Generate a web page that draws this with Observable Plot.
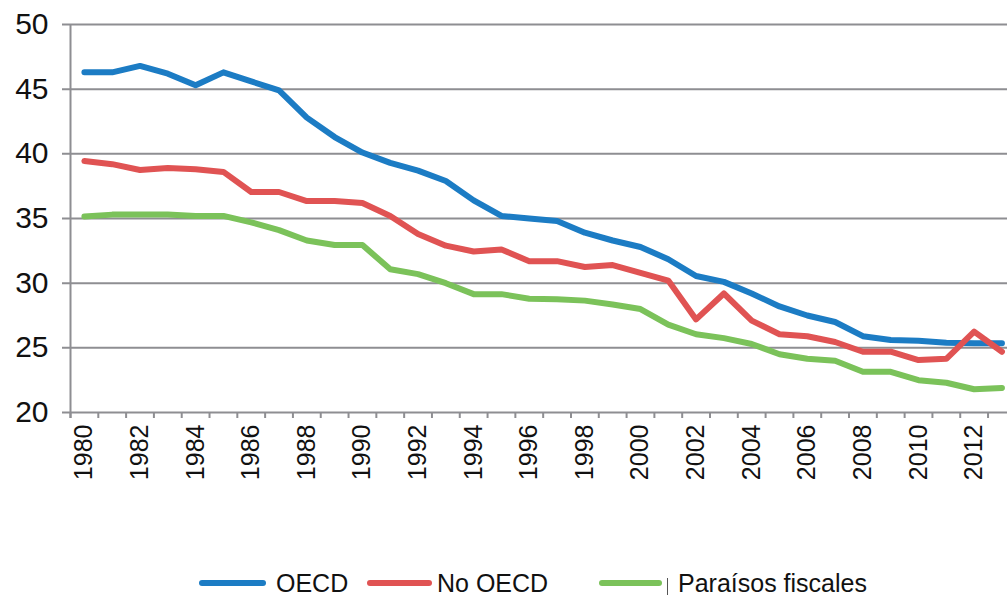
<!DOCTYPE html>
<html>
<head>
<meta charset="utf-8">
<script src="https://cdn.jsdelivr.net/npm/d3@7"></script>
<script src="https://cdn.jsdelivr.net/npm/@observablehq/plot@0.6"></script>
<style>
  html, body { margin: 0; padding: 0; background: #fff; overflow: hidden; }
  body { width: 1007px; height: 595px; font-family: "Liberation Sans", Arial, sans-serif; }
  #legend { position: relative; height: 35px; }
  .item { position: absolute; top: 8px; display: flex; align-items: center; height: 30px; font-size: 25px; color: #111; }
  .sw { display: inline-block; height: 6px; border-radius: 3px; }
</style>
</head>
<body>
<div id="chart"></div>
<div id="legend"></div>
<script>
const years = [1980,1981,1982,1983,1984,1985,1986,1987,1988,1989,
               1990,1991,1992,1993,1994,1995,1996,1997,1998,1999,
               2000,2001,2002,2003,2004,2005,2006,2007,2008,2009,
               2010,2011,2012,2013];
const oecd = [46.3,46.3,46.8,46.2,45.3,46.3,45.6,44.9,42.8,41.3,
              40.1,39.3,38.7,37.9,36.4,35.2,35.0,34.8,33.9,33.3,
              32.8,31.85,30.55,30.1,29.2,28.2,27.5,27.0,25.9,25.6,
              25.55,25.4,25.35,25.35];
const noOecd = [39.45,39.2,38.75,38.9,38.8,38.6,37.05,37.05,36.35,36.35,
                36.2,35.2,33.8,32.9,32.45,32.6,31.7,31.7,31.25,31.4,
                30.8,30.2,27.2,29.2,27.1,26.05,25.9,25.45,24.7,24.7,
                24.05,24.15,26.25,24.7];
const havens = [35.15,35.3,35.3,35.3,35.2,35.2,34.7,34.1,33.3,32.95,
                32.95,31.07,30.7,30.0,29.15,29.15,28.8,28.75,28.65,28.35,
                28.0,26.8,26.05,25.75,25.3,24.5,24.15,24.0,23.15,23.15,
                22.5,22.3,21.8,21.9];
const seriesNames = ["OECD", "No OECD", "Paraísos fiscales"];
const seriesColors = ["#1c7cc4", "#e05353", "#7bc25a"];
const yTicks = [20,25,30,35,40,45,50];
const labelYears = years.filter(y => y % 2 === 0 && y <= 2012);
const boundaries = years.map(y => y - 0.5);

const table = [];
[oecd, noOecd, havens].forEach((vals, i) => {
  vals.forEach((v, j) => table.push({year: years[j], value: v, series: seriesNames[i]}));
});

const gray = "#8e8e92";
const chart = Plot.plot({
  width: 1007,
  height: 560,
  marginLeft: 70,
  marginRight: 0,
  marginTop: 24,
  marginBottom: 148,
  style: {fontFamily: "Liberation Sans, Arial, sans-serif", color: "#111", background: "#fff"},
  x: {type: "linear", domain: [1979.5, 2013.2]},
  y: {domain: [20, 50]},
  color: {domain: seriesNames, range: seriesColors},
  marks: [
    Plot.ruleY(yTicks, {stroke: gray, strokeWidth: 2, strokeOpacity: 1, insetLeft: -8}),
    Plot.ruleX([1979.5], {stroke: gray, strokeWidth: 2, insetBottom: -6}),
    Plot.axisY({ticks: yTicks, tickSize: 0, tickPadding: 22, fontSize: 30, color: "#111", label: null}),
    Plot.axisX({ticks: boundaries, tickFormat: () => "", tickSize: 6, stroke: gray, strokeWidth: 2, strokeOpacity: 1, label: null}),
    Plot.axisX({ticks: labelYears, tickFormat: d => String(d), tickSize: 0, tickPadding: 12, tickRotate: -90, fontSize: 25, color: "#111", label: null}),
    Plot.line(table, {x: "year", y: "value", z: "series", stroke: "series", strokeWidth: 6, strokeLinejoin: "round", strokeLinecap: "round"})
  ]
});
document.getElementById("chart").appendChild(chart);

// legend
const legend = document.getElementById("legend");
const swatchX = [199, 367, 599];
const swatchW = [67, 65, 63];
const textX = [276, 437, 678];
seriesNames.forEach((name, i) => {
  const sw = document.createElement("div");
  sw.className = "item";
  sw.style.left = swatchX[i] + "px";
  const line = document.createElement("span");
  line.className = "sw";
  line.style.width = swatchW[i] + "px";
  line.style.background = seriesColors[i];
  sw.appendChild(line);
  legend.appendChild(sw);
  const t = document.createElement("div");
  t.className = "item";
  t.style.left = textX[i] + "px";
  t.textContent = name;
  legend.appendChild(t);
});
const bar = document.createElement("div");
bar.style.cssText = "position:absolute;left:667px;top:18px;width:1px;height:20px;background:#555;";
legend.appendChild(bar);
</script>
</body>
</html>
